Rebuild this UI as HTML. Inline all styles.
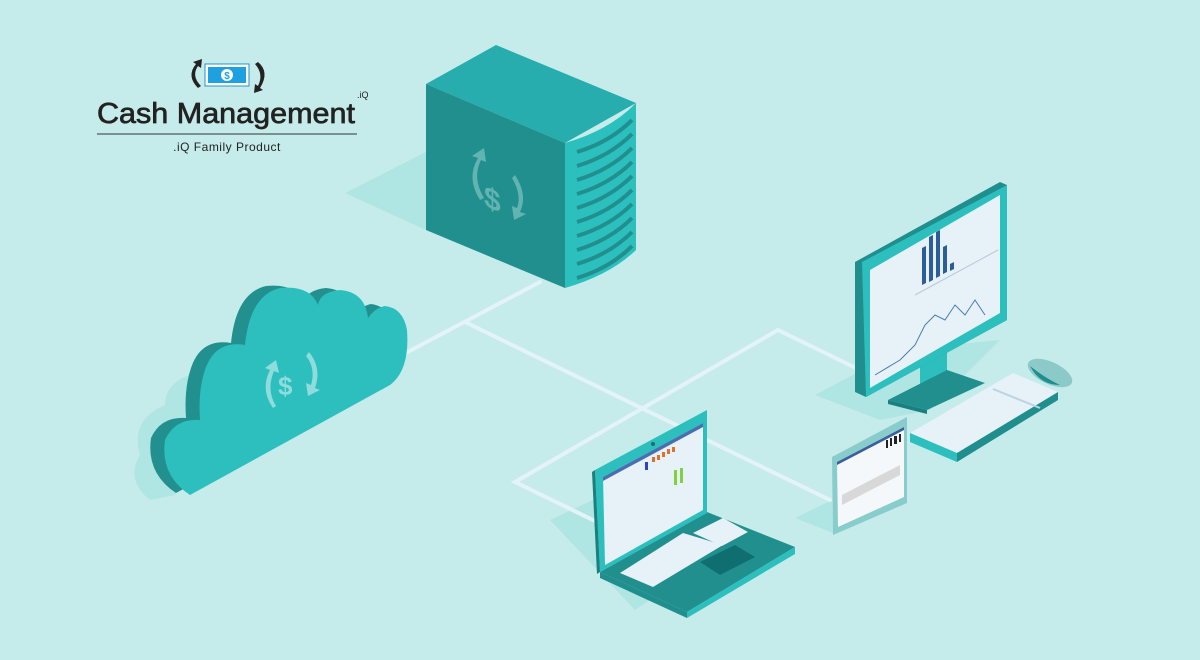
<!DOCTYPE html>
<html><head><meta charset="utf-8"><style>
html,body{margin:0;padding:0;background:#c5ecea;}
svg{display:block}
</style></head><body>
<svg width="1200" height="660" viewBox="0 0 1200 660" xmlns="http://www.w3.org/2000/svg">
<rect width="1200" height="660" fill="#c5ecea"/>
<!-- shadows -->
<polygon points="345,193 426,152 426,230" fill="#afe5e3"/>
<path d="M150,500 Q125,480 140,455 Q130,420 165,405 Q165,380 200,372 L205,380 L175,495 Z" fill="#afe5e3"/>
<polygon points="815,395 900,350 1000,340 930,410 880,420" fill="#afe5e3"/>
<polygon points="550,520 597,498 600,572 650,600 635,610" fill="#afe5e3"/>
<polygon points="795,518 832,500 833,533" fill="#afe5e3"/>
<!-- connector lines -->
<g stroke="#e4f3f7" stroke-width="4" fill="none" stroke-linecap="round">
<line x1="540" y1="282" x2="400" y2="356"/>
<line x1="465" y1="322" x2="830" y2="500"/>
<polyline points="597,522 515,482 778,330 860,370"/>
</g>
<!-- server -->
<polygon points="426,84 496,45 636,103 565,143" fill="#27adae"/>
<polygon points="426,84 565,143 565,288 426,230" fill="#218f8e"/>
<path d="M565,143 Q610,130 636,103 L636,250 Q610,275 565,288 Z" fill="#2bbfbe"/>
<g stroke="#218f8e" stroke-width="4" fill="none">
<path d="M577,152 Q610,142 632,120"/><path d="M577,166 Q610,156 632,134"/><path d="M577,180 Q610,170 632,148"/><path d="M577,194 Q610,184 632,162"/><path d="M577,208 Q610,198 632,176"/><path d="M577,222 Q610,212 632,190"/><path d="M577,236 Q610,226 632,204"/><path d="M577,250 Q610,240 632,218"/><path d="M577,264 Q610,254 632,232"/><path d="M577,278 Q610,268 632,246"/>
</g>
<g fill="#62b4b3">
<text x="484" y="205" font-family="Liberation Sans,sans-serif" font-weight="bold" font-size="30" transform="skewY(25) translate(0,-225)">$</text>
<path d="M480,200 Q466,178 478,158 L472,156 L484,148 L486,162 L481,160 Q472,178 484,198 Z"/>
<path d="M515,175 Q528,195 520,212 L526,214 L514,220 L512,206 L517,208 Q522,195 512,178 Z"/>
</g>
<!-- cloud -->
<g transform="translate(-14,-2)"><path d="M190,495 L390,385 Q410,370 407,330 Q403,308 385,306 Q375,308 368,318 Q365,292 340,290 Q320,292 318,305 Q310,285 280,288 Q250,295 245,345 Q215,340 205,370 Q198,390 200,420 Q175,418 165,440 Q160,475 190,495 Z" fill="#22908f"/></g>
<path d="M190,495 L390,385 Q410,370 407,330 Q403,308 385,306 Q375,308 368,318 Q365,292 340,290 Q320,292 318,305 Q310,285 280,288 Q250,295 245,345 Q215,340 205,370 Q198,390 200,420 Q175,418 165,440 Q160,475 190,495 Z" fill="#2cbfbe"/>
<g fill="#8edcdc">
<text x="278" y="395" font-family="Liberation Sans,sans-serif" font-weight="bold" font-size="26">$</text>
<path d="M273,408 Q260,390 270,370 L265,368 L276,360 L279,373 L274,371 Q266,390 276,406 Z"/>
<path d="M309,352 Q322,368 315,388 L320,390 L308,396 L306,383 L311,385 Q316,368 306,356 Z"/>
</g>
<!-- monitor -->
<polygon points="920,363 947,350 947,385 920,395" fill="#2cbfbe"/>
<polygon points="888,400 947,370 985,383 927,410" fill="#218f8e"/>
<polygon points="888,400 927,410 927,414 888,404" fill="#1a7f7e"/>
<polygon points="855,262 1000,182 1007,185 1007,320 866,397 855,392" fill="#1f8e8d"/>
<polygon points="862,262 1007,185 1007,320 866,397" fill="#2cbfbe"/>
<polygon points="870,270 1000,195 1000,313 870,388" fill="#e6f2f8"/>
<g fill="#2a5d9a"><polygon points="922,285 926,283 926,246 922,248"/><polygon points="929,282 933,280 933,235 929,237"/><polygon points="936,278 940,276 940,230 936,232"/><polygon points="943,274 947,272 947,245 943,247"/><polygon points="950,271 954,269 954,262 950,264"/></g>
<polyline points="875,375 900,360 915,345 925,325 935,315 945,320 955,305 965,315 975,300 985,315" fill="none" stroke="#4a7ab0" stroke-width="1"/>
<line x1="915" y1="295" x2="998" y2="250" stroke="#b9c8d8" stroke-width="1"/>
<!-- keyboard -->
<polygon points="910,433 1013,373 1058,392 957,453" fill="#e6f2f8"/>
<polygon points="910,433 957,453 957,462 910,442" fill="#2cbfbe"/>
<polygon points="957,453 1058,392 1058,400 957,462" fill="#1f8e8d"/>
<line x1="993" y1="389" x2="1040" y2="408" stroke="#bcd3e0" stroke-width="2"/>
<!-- mouse -->
<ellipse cx="1050" cy="373" rx="24" ry="11" fill="#8ccaca" transform="rotate(25 1050 373)"/>
<path d="M1030,366 Q1045,378 1060,385 Q1040,385 1030,366Z" fill="#1f8e8d"/>
<!-- tablet -->
<polygon points="832,457 907,417 907,503 833,535" fill="#88cccc"/>
<polygon points="837,462 904,427 904,497 838,527" fill="#f4f8fa"/>
<polygon points="837,462 904,427 904,430 837,465" fill="#3a5f9a"/>
<g fill="#222"><rect x="886" y="440" width="2" height="8"/><rect x="890" y="438" width="2" height="8"/><rect x="894" y="436" width="3" height="8"/><rect x="899" y="434" width="2" height="8"/></g>
<polygon points="842,495 900,465 900,475 842,505" fill="#d8d8d8"/>
<!-- laptop -->
<polygon points="600,572 707,512 795,547 687,612" fill="#218f8e"/>
<polygon points="600,572 687,612 687,618 600,578" fill="#1f8e8d"/>
<polygon points="687,612 795,547 795,554 687,618" fill="#2cbfbe"/>
<polygon points="595,470 707,410 707,513 600,572" fill="#2cbfbe"/>
<polygon points="592,472 595,470 600,572 597,574" fill="#1a7f7e"/>
<polygon points="603,477 703,423 703,510 605,565" fill="#e6f2f8"/>
<polygon points="603,477 703,423 703,427 603,481" fill="#4a6fb0"/>
<g fill="#e07030"><rect x="652" y="457" width="3" height="5"/><rect x="657" y="455" width="3" height="5"/><rect x="662" y="452" width="3" height="5"/><rect x="667" y="449" width="3" height="5"/><rect x="672" y="447" width="3" height="5"/></g>
<rect x="645" y="462" width="3" height="8" fill="#3040d0"/>
<g fill="#80d040"><rect x="674" y="470" width="3" height="15"/><rect x="680" y="468" width="3" height="15"/></g>
<circle cx="653" cy="444" r="2" fill="#1f6e6d"/>
<polygon points="620,573 683,533 723,545 653,587" fill="#e6f2f8"/>
<polygon points="693,533 723,518 748,532 722,546" fill="#e6f2f8"/>
<polygon points="700,562 735,545 755,557 720,575" fill="#0f6f70"/>
<!-- logo -->
<g>
<rect x="205" y="64" width="44" height="22" fill="#fff" stroke="#2a8fd0" stroke-width="1"/>
<rect x="208" y="67" width="38" height="16" fill="#1fa0e0"/>
<circle cx="227" cy="75" r="6" fill="#fff"/>
<text x="227" y="79" text-anchor="middle" font-family="Liberation Sans,sans-serif" font-weight="bold" font-size="10" fill="#1fa0e0">$</text>
<path d="M198,88 Q186,76 196,64 L193,62 L202,59 L201,68 L198,66 Q191,76 201,86 Z" fill="#222"/>
<path d="M258,62 Q270,72 260,88 L263,90 L254,93 L255,84 L258,86 Q264,74 255,64 Z" fill="#222"/>
<text x="97" y="123" font-family="Liberation Sans,sans-serif" font-size="29" fill="#222" stroke="#222" stroke-width="0.7" textLength="258" lengthAdjust="spacingAndGlyphs">Cash Management</text>
<text x="357" y="98" font-family="Liberation Sans,sans-serif" font-size="9" fill="#222">.iQ</text>
<line x1="97" y1="134" x2="357" y2="134" stroke="#333" stroke-width="1"/>
<text x="227" y="151" text-anchor="middle" font-family="Liberation Sans,sans-serif" font-size="12" fill="#222" letter-spacing="0.5">.iQ Family Product</text>
</g>
</svg>
</body></html>
